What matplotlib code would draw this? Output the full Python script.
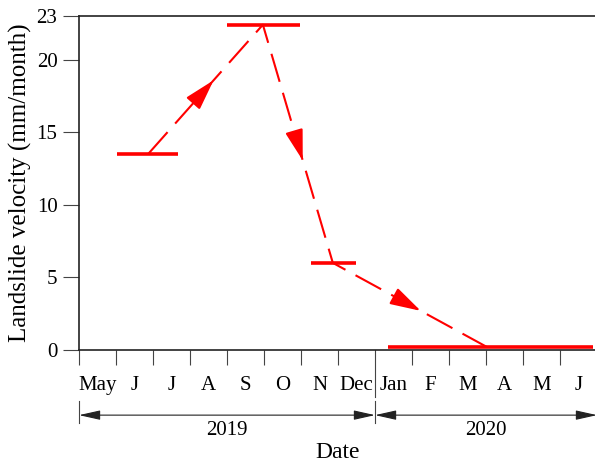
import numpy as np
import matplotlib
matplotlib.use("Agg")
import matplotlib.pyplot as plt
from matplotlib.transforms import blended_transform_factory

plt.rcParams["font.family"] = ["Liberation Serif", "DejaVu Serif"]

# Month labels (May 2019 - June 2020) and year spans in month units
months = ["May", "J", "J", "A", "S", "O", "N", "Dec",
          "Jan", "F", "M", "A", "M", "J"]
years = ["2019", "2020"]
year_bounds = [0, 8, 14]

# Periods of roughly constant landslide velocity (month units from May 2019)
period_start = [1.03, 4.0, 6.27, 8.35]
period_end = [2.68, 5.97, 7.49, 13.9]
velocity = [13.5, 22.4, 6.0, 0.2]          # mm/month
trend_x = [1.87, 4.97, 6.86, 11.03]         # where the trend line meets each period

yticks = [0, 5, 10, 15, 20, 23]

red = "#ff0000"
ink = "#222222"
fs = 15

fig = plt.figure(figsize=(5.95, 4.66), dpi=100)
ax = fig.add_axes([79 / 595, 116 / 466, 518 / 595, 334 / 466])
ax.set_xlim(0, len(months))
ax.set_ylim(0, 23)

# velocity plateaus
ax.hlines(velocity, period_start, period_end, colors=red, lw=2.6, zorder=3)

# dashed trend between plateaus
ax.plot(trend_x, velocity, color=red, lw=1.5, linestyle=(0, (14, 5.5)),
        dash_capstyle="butt", zorder=3)

# direction arrowheads part way along each trend segment
for i in range(len(trend_x) - 1):
    p0 = ax.transData.transform((trend_x[i], velocity[i]))
    p1 = ax.transData.transform((trend_x[i + 1], velocity[i + 1]))
    vec = p1 - p0
    unit = vec / np.hypot(*vec)
    tip = ax.transData.inverted().transform(p0 + 0.57 * vec)
    L = 20
    ax.annotate("", xy=tip, xycoords="data",
                xytext=(-unit[0] * L, -unit[1] * L), textcoords="offset points",
                arrowprops=dict(arrowstyle="-|>,head_length=1.9,head_width=0.55",
                                color=red, lw=1.5, shrinkA=0, shrinkB=0,
                                mutation_scale=10),
                zorder=4)

# spines
for side in ["left", "top", "bottom"]:
    ax.spines[side].set_color(ink)
    ax.spines[side].set_linewidth(1.2)
ax.spines["right"].set_visible(False)

# y axis
ax.set_yticks(yticks)
ax.set_yticklabels([str(v) for v in yticks])
ax.tick_params(axis="y", direction="out", length=11.5, width=0.8,
               color="#444444", pad=4, labelsize=fs)
ax.set_ylabel("Landslide velocity (mm/month)", fontsize=18)
ax.yaxis.set_label_coords(-0.09, 0.5)

# x axis: boundary ticks between months, labels at month centres
ax.set_xticks([t for t in range(len(months) + 1) if t != year_bounds[1]])
ax.set_xticklabels([])
ax.set_xticks(np.arange(len(months)) + 0.5, minor=True)
ax.set_xticklabels(months, minor=True)
ax.tick_params(axis="x", which="major", direction="out", length=11,
               width=0.8, color="#444444")
ax.tick_params(axis="x", which="minor", length=0, pad=19, labelsize=fs)

trans = blended_transform_factory(ax.transData, ax.transAxes)

# long year-boundary tick and separators under the year arrows
sep_kw = dict(transform=trans, clip_on=False, color="#444444", lw=0.8)
ax.plot([year_bounds[1]] * 2, [0, -0.141], **sep_kw)
for xb in year_bounds[:2]:
    ax.plot([xb] * 2, [-0.153, -0.219], **sep_kw)

# year spans
for i, yr in enumerate(years):
    a, b = year_bounds[i], year_bounds[i + 1]
    ax.annotate("", xy=(a, -0.195), xycoords=trans,
                xytext=(b, -0.195), textcoords=trans,
                arrowprops=dict(arrowstyle="<|-|>,head_length=1.3,head_width=0.29",
                                color="#222222", lw=0.8, shrinkA=0, shrinkB=0,
                                mutation_scale=10),
                annotation_clip=False)
    ax.text((a + b) / 2, -0.241, yr, transform=trans, ha="center",
            va="center", fontsize=fs)

ax.text(0.5, -0.307, "Date", transform=ax.transAxes, ha="center",
        va="center", fontsize=17)

fig.savefig("out.png", dpi=100)
